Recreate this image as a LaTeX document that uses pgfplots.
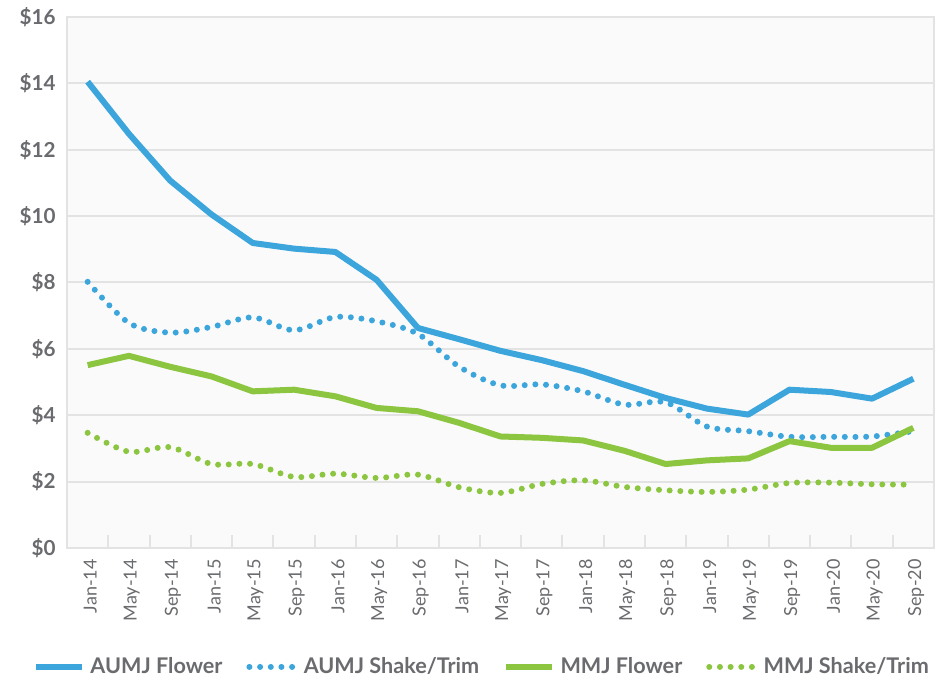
\documentclass[border=0pt]{standalone}
\usepackage{fontspec}
\setmainfont{Lato}
\usepackage{pgfplots}
\usepackage{pgfplotstable}
\pgfplotsset{compat=1.18}
\definecolor{aublue}{HTML}{3BA5DC}
\definecolor{mmgreen}{HTML}{8CC540}
\definecolor{txtgray}{HTML}{6A6B6E}
\definecolor{gridgray}{HTML}{E3E3E3}
\definecolor{bgplot}{HTML}{FAFAFA}

% i = month index (Jan-14 ... Sep-20, every 4 months)
\pgfplotstableread{
i  af     as    mf    ms
0  14.05  8.02  5.51  3.47
1  12.48  6.78  5.79  2.90
2  11.07  6.49  5.46  3.04
3  10.05  6.66  5.17  2.53
4  9.19   6.95  4.72  2.53
5  9.02   6.56  4.77  2.14
6  8.92   6.96  4.57  2.24
7  8.08   6.83  4.22  2.11
8  6.63   6.45  4.12  2.21
9  6.29   5.46  3.77  1.83
10 5.94   4.90  3.36  1.66
11 5.66   4.93  3.32  1.93
12 5.33   4.72  3.24  2.04
13 4.92   4.32  2.93  1.84
14 4.52   4.39  2.53  1.74
15 4.20   3.66  2.64  1.69
16 4.02   3.52  2.70  1.76
17 4.77   3.35  3.22  1.96
18 4.70   3.35  3.02  1.97
19 4.50   3.36  3.02  1.92
20 5.10   3.52  3.62  1.91
}\data

\begin{document}
\begin{tikzpicture}
\begin{axis}[
  name=ax,
  scale only axis,
  width=650.25pt, height=398.25pt,
  xmin=-0.5, xmax=20.5, ymin=0, ymax=16,
  axis background/.style={fill=bgplot},
  axis line style={gridgray, line width=1.2pt},
  ytick={0,2,...,16},
  yticklabels={\$0,\$2,\$4,\$6,\$8,\$10,\$12,\$14,\$16},
  ymajorgrids, grid style={gridgray, line width=1.5pt},
  major tick length=0pt,
  xtick={0,...,20},
  xticklabels={Jan-14,May-14,Sep-14,Jan-15,May-15,Sep-15,Jan-16,May-16,Sep-16,Jan-17,May-17,Sep-17,Jan-18,May-18,Sep-18,Jan-19,May-19,Sep-19,Jan-20,May-20,Sep-20},
  minor xtick={0.5,1.5,...,19.5},
  minor tick length=10pt,
  tick align=inside,
  xtick pos=bottom, ytick pos=left,
  minor tick style={gridgray, line width=1.5pt},
  xticklabel shift=5pt,
  yticklabel shift=5pt,
  xticklabel style={rotate=90, anchor=east, yshift=-2pt, font=\fontsize{13.5}{15}\selectfont, text=txtgray},
  yticklabel style={font=\fontsize{15.5}{18}\selectfont\bfseries, text=txtgray},
  legend style={at={(0.479,-0.224)}, anchor=center, draw=none, fill=none,
    font=\fontsize{16.2}{19}\selectfont\bfseries, text=txtgray,
    /tikz/every odd column/.append style={column sep=2pt},
    /tikz/every even column/.append style={column sep=16pt}},
  legend columns=4,
  legend image code/.code={\draw[#1] (0pt,0pt) -- (34.5pt,0pt);},
]
\addplot[aublue, line width=4.5pt, line join=round] table[x=i, y=af] {\data};
\addplot[aublue, line width=4.5pt, line cap=round, dash pattern=on 0pt off 8pt, smooth, tension=0.5] table[x=i, y=as] {\data};
\addplot[mmgreen, line width=4.5pt, line join=round] table[x=i, y=mf] {\data};
\addplot[mmgreen, line width=4.5pt, line cap=round, dash pattern=on 0pt off 8pt, smooth, tension=0.5] table[x=i, y=ms] {\data};
\legend{AUMJ Flower, AUMJ Shake/Trim, MMJ Flower, MMJ Shake/Trim}
\end{axis}
\pgfresetboundingbox
\path ([xshift=-50.25pt, yshift=-96.75pt]ax.south west) rectangle ([xshift=1.5pt, yshift=12.75pt]ax.north east);
\end{tikzpicture}
\end{document}
